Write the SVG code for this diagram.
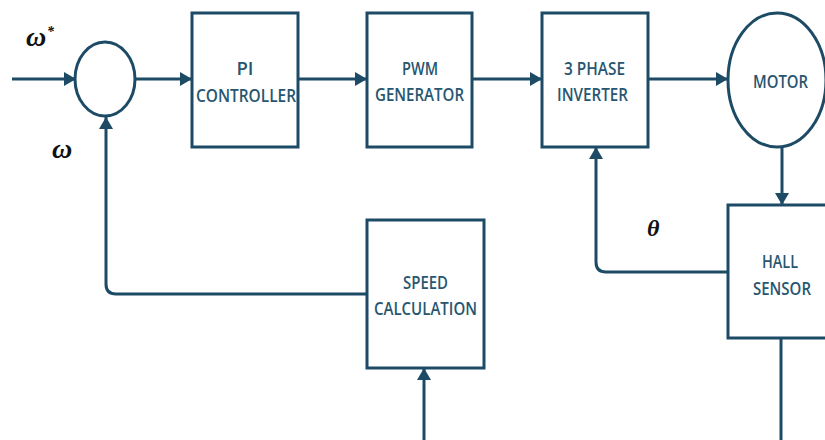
<svg xmlns="http://www.w3.org/2000/svg" width="825" height="440" viewBox="0 0 825 440">
<defs>
<style>
.box{fill:#fff;stroke:#1d4b66;stroke-width:3}
.lbl{font-family:"Open Sans","DejaVu Sans",sans-serif;font-size:18.5px;font-weight:600;fill:#285670;text-anchor:middle}
.sym{font-family:"Liberation Serif","DejaVu Serif",serif;font-weight:bold;font-style:italic;fill:#111}
.wire{fill:none;stroke:#1d4b66;stroke-width:3;stroke-linejoin:round}
</style>
<marker id="arr" markerUnits="userSpaceOnUse" markerWidth="13" markerHeight="14" refX="12" refY="7" orient="auto">
<path d="M0,0 L12,7 L0,14 z" fill="#1d4b66"/>
</marker>
</defs>
<rect width="825" height="440" fill="#fff"/>
<g id="connectors">
<path class="wire" d="M12,79 H76" marker-end="url(#arr)"/>
<path class="wire" d="M135,79 H192" marker-end="url(#arr)"/>
<path class="wire" d="M298,79 H367" marker-end="url(#arr)"/>
<path class="wire" d="M472,79 H542" marker-end="url(#arr)"/>
<path class="wire" d="M648,79 H728" marker-end="url(#arr)"/>
<path class="wire" d="M782,147 V205" marker-end="url(#arr)"/>
<path class="wire" d="M728,272 H606 Q596,272 596,262 V147" marker-end="url(#arr)"/>
<path class="wire" d="M367,294 H116 Q106,294 106,284 V117" marker-end="url(#arr)"/>
<path class="wire" d="M781,338 V441.5 H424 V368" marker-end="url(#arr)"/>
</g>
<g id="sum"><ellipse class="box" cx="105" cy="79" rx="30" ry="37"/></g>
<g id="pi"><rect class="box" x="192" y="13" width="106" height="134"/>
<text class="lbl" x="245" y="75">PI</text>
<text class="lbl" x="246" y="102" textLength="100" lengthAdjust="spacingAndGlyphs">CONTROLLER</text></g>
<g id="pwm"><rect class="box" x="367" y="13" width="105" height="134"/>
<text class="lbl" x="420" y="75" textLength="36" lengthAdjust="spacingAndGlyphs">PWM</text>
<text class="lbl" x="419.5" y="101" textLength="89" lengthAdjust="spacingAndGlyphs">GENERATOR</text></g>
<g id="inverter"><rect class="box" x="542" y="13" width="106" height="134"/>
<text class="lbl" x="594.5" y="75" textLength="61" lengthAdjust="spacingAndGlyphs">3 PHASE</text>
<text class="lbl" x="592.5" y="101" textLength="71" lengthAdjust="spacingAndGlyphs">INVERTER</text></g>
<g id="motor"><ellipse class="box" cx="777" cy="80" rx="49" ry="67"/>
<text class="lbl" x="780.5" y="88" textLength="55" lengthAdjust="spacingAndGlyphs">MOTOR</text></g>
<g id="hall"><rect class="box" x="728" y="205" width="110" height="133"/>
<text class="lbl" x="780" y="268" textLength="36" lengthAdjust="spacingAndGlyphs">HALL</text>
<text class="lbl" x="782" y="295" textLength="58" lengthAdjust="spacingAndGlyphs">SENSOR</text></g>
<g id="speed"><rect class="box" x="367" y="220" width="117" height="148"/>
<text class="lbl" x="425.5" y="289" textLength="45" lengthAdjust="spacingAndGlyphs">SPEED</text>
<text class="lbl" x="425.5" y="315" textLength="103" lengthAdjust="spacingAndGlyphs">CALCULATION</text></g>
<g id="labels">
<text class="sym" x="26" y="46" font-size="28">ω</text>
<text class="sym" x="47" y="36" font-size="14">*</text>
<text class="sym" x="52" y="158" font-size="28">ω</text>
<text class="sym" x="647" y="236" font-size="24">θ</text>
</g>
</svg>
